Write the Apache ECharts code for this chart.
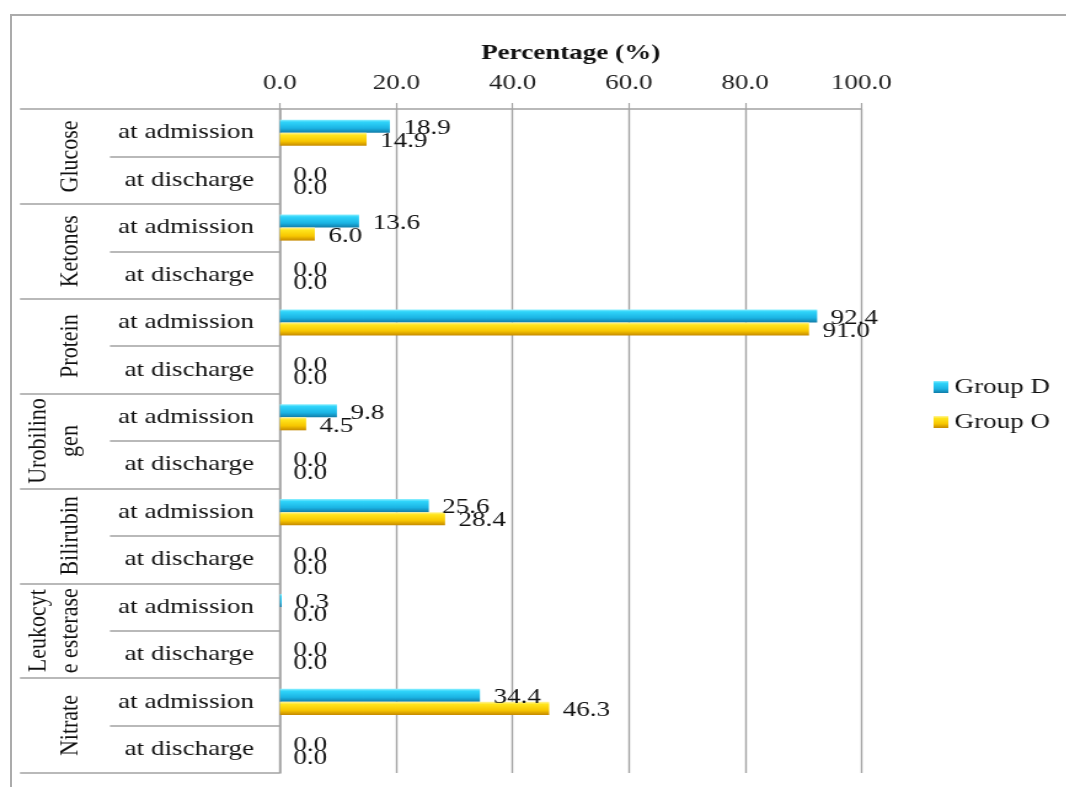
<!DOCTYPE html>
<html>
<head>
<meta charset="utf-8">
<script src="https://cdn.jsdelivr.net/npm/echarts@6/dist/echarts.min.js"></script>
<style>
  html, body { margin: 0; padding: 0; background: #fff; overflow: hidden; }
  #frame { position: absolute; left: 10px; top: 14px; width: 1100px; height: 800px;
           border-left: 2px solid #ababab; border-top: 2px solid #ababab; }
  /* the drawing is laid out narrow and widened, giving the wide serif lettering */
  #chart { position: absolute; left: 0; top: 0; width: 867px; height: 787px;
           transform: scaleX(1.23); transform-origin: 0 0; }
</style>
</head>
<body>
<div id="frame"></div>
<div id="chart"></div>
<script>
// urine test results: share of patients (%) per group
const groups = ['Glucose', 'Ketones', 'Protein', 'Urobilino\ngen', 'Bilirubin', 'Leukocyt\ne esterase', 'Nitrate'];
const stages = ['at admission', 'at discharge'];
const groupD = [18.9, 0.0, 13.6, 0.0, 92.4, 0.0, 9.8, 0.0, 25.6, 0.0, 0.3, 0.0, 34.4, 0.0];
const groupO = [14.9, 0.0, 6.0, 0.0, 91.0, 0.0, 4.5, 0.0, 28.4, 0.0, 0.0, 0.0, 46.3, 0.0];
const seriesNames = ['Group D', 'Group O'];
const xMin = 0, xMax = 100, xStep = 20;

const rows = groups.flatMap(() => stages);
const FONT = 'Liberation Serif, Times New Roman, serif';
const LINE = '#a3a3a3';

const blueFill = new echarts.graphic.LinearGradient(0, 0, 0, 1, [
  { offset: 0, color: '#8ff0ff' },
  { offset: 0.18, color: '#2fd4fa' },
  { offset: 0.65, color: '#1bb4e4' },
  { offset: 1, color: '#117ca8' }
]);
const goldFill = new echarts.graphic.LinearGradient(0, 0, 0, 1, [
  { offset: 0, color: '#fff59a' },
  { offset: 0.2, color: '#ffe41c' },
  { offset: 0.65, color: '#f7c600' },
  { offset: 1, color: '#c68a00' }
]);

const valueLabel = {
  show: true,
  position: 'right',
  distance: 11,
  offset: [0, 2],
  fontFamily: FONT,
  fontSize: 22,
  color: '#111',
  formatter: p => p.value.toFixed(1)
};

const chart = echarts.init(document.getElementById('chart'));
chart.setOption({
  animation: false,
  backgroundColor: 'transparent',
  textStyle: { fontFamily: FONT },
  grid: { left: 227.6, right: 166.7, top: 109, bottom: 14, containLabel: false },
  legend: {
    orient: 'vertical',
    left: 754,
    top: 371,
    itemWidth: 12,
    itemHeight: 12,
    itemGap: 13,
    selectedMode: false,
    icon: 'rect',
    textStyle: { fontFamily: FONT, fontSize: 22, color: '#111' },
    data: seriesNames
  },
  xAxis: {
    type: 'value',
    position: 'top',
    min: xMin,
    max: xMax,
    interval: xStep,
    name: 'Percentage (%)',
    nameLocation: 'middle',
    nameGap: 45,
    nameTextStyle: { fontFamily: FONT, fontSize: 22, fontWeight: 'bold', color: '#111' },
    axisLine: { show: true, lineStyle: { color: LINE, width: 1.5 } },
    axisTick: { show: true, length: 6, lineStyle: { color: LINE, width: 1.2 } },
    axisLabel: { margin: 15, fontFamily: FONT, fontSize: 22, color: '#1e1e1e', formatter: v => v.toFixed(1) },
    splitLine: { show: true, lineStyle: { color: LINE, width: 1.4 } }
  },
  yAxis: [
    {
      type: 'category',
      inverse: true,
      data: rows,
      position: 'left',
      axisLine: { show: true, lineStyle: { color: LINE, width: 1.5 } },
      axisTick: { show: true, length: 138.2, lineStyle: { color: LINE, width: 1.5 } },
      axisLabel: { interval: 0, margin: 21, fontFamily: FONT, fontSize: 22, color: '#111' },
      splitLine: { show: false }
    },
    {
      type: 'category',
      inverse: true,
      data: groups,
      position: 'left',
      offset: 138.2,
      axisLine: { show: false },
      axisTick: { show: true, length: 73.2, lineStyle: { color: LINE, width: 1.5 } },
      axisLabel: {
        interval: 0, rotate: 90, margin: 19,
        fontFamily: FONT, fontSize: 22, lineHeight: 26, color: '#111', align: 'center'
      },
      splitLine: { show: false }
    }
  ],
  series: [
    {
      name: seriesNames[0],
      type: 'bar',
      yAxisIndex: 0,
      data: groupD,
      barGap: '0%',
      barCategoryGap: '45%',
      itemStyle: { color: blueFill, borderWidth: 0 },
      label: valueLabel
    },
    {
      name: seriesNames[1],
      type: 'bar',
      yAxisIndex: 0,
      data: groupO,
      barGap: '0%',
      barCategoryGap: '45%',
      itemStyle: { color: goldFill, borderWidth: 0 },
      label: valueLabel
    }
  ]
});
</script>
</body>
</html>
